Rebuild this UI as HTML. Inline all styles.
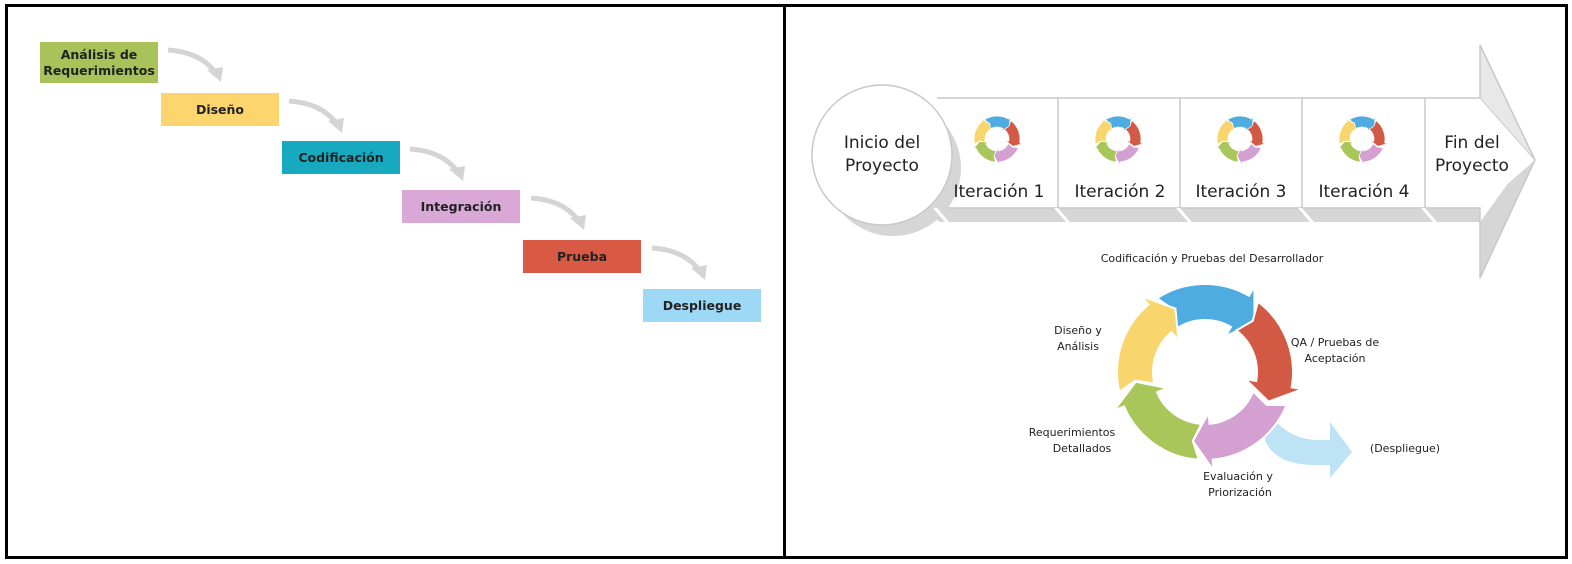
<!DOCTYPE html>
<html><head><meta charset="utf-8"><style>
html,body{margin:0;padding:0;background:#fff}
body{width:1572px;height:564px;position:relative;overflow:hidden;font-family:"DejaVu Sans","Liberation Sans",sans-serif}
.frame{position:absolute;left:5px;top:4px;width:1557px;height:549px;border:3px solid #000}
.div{position:absolute;left:783px;top:4px;width:3px;height:555px;background:#000}
.box{position:absolute;display:flex;align-items:center;justify-content:center;text-align:center;font-weight:bold;font-size:12.5px;color:#222;line-height:16px}
</style></head><body>
<div class="frame"></div><div class="div"></div>

<div class="box" style="left:40px;top:42px;width:118px;height:41px;background:#a9c25a">Análisis de<br>Requerimientos</div>
<div class="box" style="left:161px;top:93px;width:118px;height:33px;background:#fdd56f">Diseño</div>
<div class="box" style="left:282px;top:141px;width:118px;height:33px;background:#16a9c0">Codificación</div>
<div class="box" style="left:402px;top:190px;width:118px;height:33px;background:#d9a8d6">Integración</div>
<div class="box" style="left:523px;top:240px;width:118px;height:33px;background:#d85a45">Prueba</div>
<div class="box" style="left:643px;top:289px;width:118px;height:33px;background:#9dd8f4">Despliegue</div>

<svg id="s" width="1572" height="564" style="position:absolute;left:0;top:0">
<g id="wf" fill="none" stroke="#d4d4d4" stroke-width="5"></g>
<polygon points="920,208 1480,208 1480,222 940,222" fill="#d6d6d6"/>
<polygon points="1480,222 1480,278 1535,160 1525,160" fill="#d6d6d6"/>
<polygon points="937,208 1480,208 1480,98 937,98" fill="#fff"/>
<polygon points="1480,98 1480,45 1535,160 1480,208" fill="#fff"/>
<polygon points="1480,98 1480,45 1535,160" fill="#e8e8e8" stroke="#ccc"/>
<polyline points="937,98 1480,98 1480,45 1535,160 1480,278 1480,208 937,208" fill="none" stroke="#c8c8c8" stroke-width="1.5"/>
<circle cx="893" cy="168" r="68" fill="#d6d6d6"/>
<circle cx="882" cy="155" r="70" fill="#fff" stroke="#c8c8c8" stroke-width="1.5"/>
<g stroke="#c8c8c8" stroke-width="1.5">
<line x1="1058" y1="98" x2="1058" y2="208"/><line x1="1180" y1="98" x2="1180" y2="208"/>
<line x1="1302" y1="98" x2="1302" y2="208"/><line x1="1425" y1="98" x2="1425" y2="208"/>
</g>
<g fill="#fff"><path d="M1058,208 l12,14 l-4,0 l-12,-14z"/><path d="M1180,208 l12,14 l-4,0 l-12,-14z"/><path d="M1302,208 l12,14 l-4,0 l-12,-14z"/><path d="M1425,208 l12,14 l-4,0 l-12,-14z"/><path d="M937,208 l12,14 l-4,0 l-12,-14z"/></g>
<g id="cyc"></g>
<g font-family="DejaVu Sans, sans-serif" fill="#222">
<text x="882" y="148" font-size="17" text-anchor="middle">Inicio del</text>
<text x="882" y="171" font-size="17" text-anchor="middle">Proyecto</text>
<text x="1472" y="148" font-size="17" text-anchor="middle">Fin del</text>
<text x="1472" y="171" font-size="17" text-anchor="middle">Proyecto</text>
<text x="999" y="197" font-size="17" text-anchor="middle">Iteración 1</text>
<text x="1120" y="197" font-size="17" text-anchor="middle">Iteración 2</text>
<text x="1241" y="197" font-size="17" text-anchor="middle">Iteración 3</text>
<text x="1364" y="197" font-size="17" text-anchor="middle">Iteración 4</text>
<g font-size="11" text-anchor="middle">
<text x="1212" y="262">Codificación y Pruebas del Desarrollador</text>
<text x="1078" y="334">Diseño y</text><text x="1078" y="350">Análisis</text>
<text x="1335" y="346">QA / Pruebas de</text><text x="1335" y="362">Aceptación</text>
<text x="1072" y="436">Requerimientos</text><text x="1082" y="452">Detallados</text>
<text x="1405" y="452">(Despliegue)</text>
<text x="1238" y="480">Evaluación y</text><text x="1240" y="496">Priorización</text>
</g></g>
</svg>
<script>
var NS="http://www.w3.org/2000/svg";
function P(cx,cy,r,a){a=a*Math.PI/180;return [cx+r*Math.cos(a),cy+r*Math.sin(a)];}
function seg(g,cx,cy,ro,ri,a0,a1,col){
 var h=15, ab=a1-h, ex=(ro-ri)*0.3, rm=(ro+ri)/2;
 var p1=P(cx,cy,ro,a0),p2=P(cx,cy,ro,ab),p3=P(cx,cy,ro+ex,ab),t=P(cx,cy,rm,a1),p4=P(cx,cy,ri-ex,ab),p5=P(cx,cy,ri,ab),p6=P(cx,cy,ri,a0),nt=P(cx,cy,rm,a0+6);
 var d="M"+p1+" A"+ro+","+ro+" 0 0 1 "+p2+" L"+p3+" L"+t+" L"+p4+" L"+p5+" A"+ri+","+ri+" 0 0 0 "+p6+" L"+nt+" Z";
 var e=document.createElementNS(NS,"path");e.setAttribute("d",d);e.setAttribute("fill",col);e.setAttribute("stroke","#fff");e.setAttribute("stroke-width",ro>50?2:0.7);g.appendChild(e);}
var cols=["#4eace0","#d25a45","#d3a0d1","#a9c65a","#f9d56e"],tips=[315,25,100,172,245];
var g=document.getElementById("cyc");
var d=document.createElementNS(NS,"path");
d.setAttribute("d","M1268,410 Q1285,440 1320,440 L1330,440 L1330,422 L1352,452 L1330,478 L1330,465 L1315,465 Q1275,465 1265,440 Z");
d.setAttribute("fill","#bde3f5");g.appendChild(d);
function cycle(cx,cy,ro,ri){for(var i=0;i<5;i++)seg(g,cx,cy,ro,ri,tips[i]-78,tips[i],cols[i]);}
cycle(1205,372,88,52);
[997,1118,1240,1362].forEach(function(x){cycle(x,139,23,12);});
var wf=document.getElementById("wf");
[[168,50],[289,101],[410,149],[531,198],[652,248]].forEach(function(p){
 var x=p[0],y=p[1];
 var c=document.createElementNS(NS,"path");
 c.setAttribute("d","M"+x+","+y+" Q"+(x+32)+","+(y+2)+" "+(x+47)+","+(y+22));wf.appendChild(c);
 var a=document.createElementNS(NS,"polygon");
 a.setAttribute("points",(x+39)+","+(y+20)+" "+(x+55)+","+(y+17)+" "+(x+53)+","+(y+32));
 a.setAttribute("fill","#d4d4d4");a.setAttribute("stroke","none");wf.appendChild(a);
});
</script>
</body></html>
